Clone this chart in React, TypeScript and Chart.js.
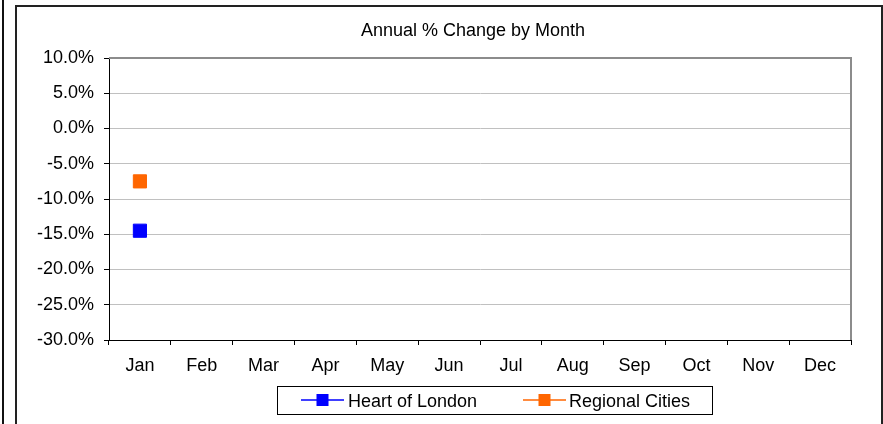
import React, { useEffect, useRef } from "react";
import { Chart, registerables } from "chart.js";

Chart.register(...registerables);

const TITLE = "Annual % Change by Month";
const MONTHS = ["Jan", "Feb", "Mar", "Apr", "May", "Jun", "Jul", "Aug", "Sep", "Oct", "Nov", "Dec"];
const HEART_OF_LONDON = [-14.5, null, null, null, null, null, null, null, null, null, null, null];
const REGIONAL_CITIES = [-7.5, null, null, null, null, null, null, null, null, null, null, null];
const SERIES_NAMES = ["Heart of London", "Regional Cities"];
const SERIES_COLORS = ["#0000FF", "#FF6600"];
const Y_MIN = -30;
const Y_MAX = 10;
const Y_STEP = 5;

const FONT = "'Liberation Sans', Arial, sans-serif";
const FS = 18;
const W = 883;
const H = 424;

const decorPlugin = {
  id: "decor",
  beforeDraw(chart: any) {
    const ctx = chart.ctx;
    ctx.save();
    ctx.fillStyle = "#ffffff";
    ctx.fillRect(0, 0, W, H);
    ctx.restore();
  },
  afterDraw(chart: any) {
    const ctx = chart.ctx;
    const a = chart.chartArea;
    ctx.save();
    // left neighbour line
    ctx.strokeStyle = "#111";
    ctx.lineWidth = 2;
    ctx.beginPath();
    ctx.moveTo(3, 0);
    ctx.lineTo(3, H);
    ctx.stroke();
    // chart frame
    ctx.strokeStyle = "#222";
    ctx.lineWidth = 2;
    ctx.beginPath();
    ctx.moveTo(16, H + 5);
    ctx.lineTo(16, 6);
    ctx.lineTo(882, 6);
    ctx.lineTo(882, H + 5);
    ctx.stroke();
    // plot area top/right grey border
    ctx.strokeStyle = "#8c8c8c";
    ctx.lineWidth = 2;
    ctx.beginPath();
    ctx.moveTo(a.left, a.top);
    ctx.lineTo(a.right, a.top);
    ctx.lineTo(a.right, a.bottom);
    ctx.stroke();
    // title
    ctx.fillStyle = "#000";
    ctx.font = `${FS}px ${FONT}`;
    ctx.textAlign = "center";
    ctx.textBaseline = "alphabetic";
    ctx.fillText(TITLE, 473, 36);
    // legend
    const lx0 = 277.5, ly0 = 386.5, lx1 = 712.5, ly1 = 414.5;
    ctx.strokeStyle = "#000";
    ctx.lineWidth = 1;
    ctx.strokeRect(lx0, ly0, lx1 - lx0, ly1 - ly0);
    const items = [
      { x: 301, tx: 348 },
      { x: 523, tx: 569 },
    ];
    items.forEach((it, i) => {
      const cy = 400;
      ctx.strokeStyle = SERIES_COLORS[i];
      ctx.lineWidth = 1.5;
      ctx.beginPath();
      ctx.moveTo(it.x, cy);
      ctx.lineTo(it.x + 43, cy);
      ctx.stroke();
      ctx.fillStyle = SERIES_COLORS[i];
      ctx.fillRect(it.x + 15.5, cy - 6, 12, 12);
      ctx.fillStyle = "#000";
      ctx.textAlign = "left";
      ctx.textBaseline = "alphabetic";
      ctx.font = `${FS}px ${FONT}`;
      ctx.fillText(SERIES_NAMES[i], it.tx, 407);
    });
    ctx.restore();
  },
};

export default function App() {
  const ref = useRef<HTMLCanvasElement | null>(null);
  useEffect(() => {
    if (!ref.current) return;
    const chart = new Chart(ref.current, {
      type: "line",
      data: {
        labels: MONTHS,
        datasets: [
          {
            label: SERIES_NAMES[0],
            data: HEART_OF_LONDON,
            borderColor: SERIES_COLORS[0],
            backgroundColor: SERIES_COLORS[0],
            pointStyle: "rect",
            pointRadius: 9.3,
            pointBorderWidth: 1,
            borderWidth: 1.5,
          },
          {
            label: SERIES_NAMES[1],
            data: REGIONAL_CITIES,
            borderColor: SERIES_COLORS[1],
            backgroundColor: SERIES_COLORS[1],
            pointStyle: "rect",
            pointRadius: 9.3,
            pointBorderWidth: 1,
            borderWidth: 1.5,
          },
        ],
      },
      options: {
        responsive: false,
        animation: false,
        layout: { padding: { left: 0, top: 58, right: 32, bottom: 0 } },
        plugins: {
          legend: { display: false },
          title: { display: false },
          tooltip: { enabled: false },
        },
        scales: {
          x: {
            offset: true,
            grid: {
              offset: true,
              drawOnChartArea: false,
              drawTicks: true,
              tickLength: 5,
              tickColor: "#000",
            },
            border: { color: "#000", width: 1 },
            ticks: {
              color: "#000",
              font: { family: FONT, size: FS },
              padding: 10,
              maxRotation: 0,
              autoSkip: false,
            },
            afterFit(scale: any) {
              scale.height = 84;
            },
          },
          y: {
            min: Y_MIN,
            max: Y_MAX,
            grid: {
              color: "#c0c0c0",
              tickColor: "#000",
              tickLength: 5,
            },
            border: { color: "#000", width: 1 },
            ticks: {
              stepSize: Y_STEP,
              color: "#000",
              font: { family: FONT, size: FS },
              padding: 10,
              callback: (v: any) => Number(v).toFixed(1) + "%",
            },
            afterFit(scale: any) {
              scale.width = 109;
            },
          },
        },
      },
      plugins: [decorPlugin],
    });
    return () => chart.destroy();
  }, []);
  return (
    <div style={{ position: "fixed", left: 0, top: 0, width: W, height: H }}>
      <canvas ref={ref} width={W} height={H} style={{ display: "block" }} />
    </div>
  );
}
